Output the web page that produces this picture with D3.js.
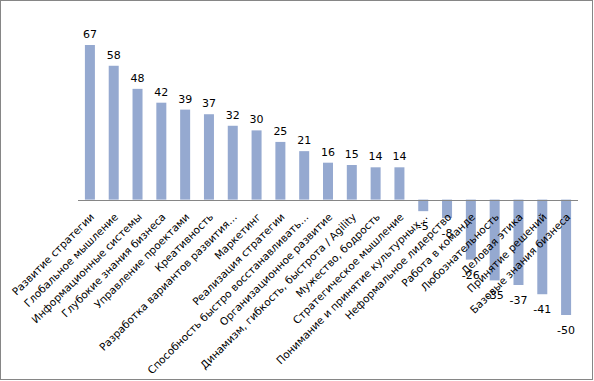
<!DOCTYPE html>
<html>
<head>
<meta charset="utf-8">
<script src="https://cdn.jsdelivr.net/npm/d3@7"></script>
<style>
  body { margin: 0; background: #fff; }
  svg { display: block; }
</style>
</head>
<body>
<div id="chart"></div>
<script>
// competencies and their scores
const categories = [
  'Развитие стратегии',
  'Глобальное мышление',
  'Информационные системы',
  'Глубокие знания бизнеса',
  'Управление проектами',
  'Креативность',
  'Разработка вариантов развития…',
  'Маркетинг',
  'Реализация стратегии',
  'Способность быстро восстанавливать…',
  'Организационное развитие',
  'Динамизм, гибкость, быстрота / Agility',
  'Мужество, бодрость',
  'Стратегическое мышление',
  'Понимание и принятие культурных…',
  'Неформальное лидерство',
  'Работа в команде',
  'Любознательность',
  'Деловая этика',
  'Принятие решений',
  'Базовые знания бизнеса'
];
const values = [67, 58, 48, 42, 39, 37, 32, 30, 25, 21, 16, 15, 14, 14, -5, -8, -26, -35, -37, -41, -50];

const width = 594, height = 381;
const font = 'DejaVu Sans, Verdana, sans-serif';

const svg = d3.select('#chart')
  .append('svg')
  .attr('width', width)
  .attr('height', height);

// outer frame
svg.append('rect')
  .attr('x', 0.5).attr('y', 0.5)
  .attr('width', 592).attr('height', 379)
  .attr('fill', '#fff')
  .attr('stroke', '#868686');

const x = d3.scaleBand()
  .domain(categories)
  .range([78, 578])
  .paddingInner(0.58)
  .paddingOuter(0.29);

const y = d3.scaleLinear()
  .domain([-50, 67])
  .range([315, 45]);

const data = categories.map((c, i) => ({ name: c, value: values[i] }));

svg.selectAll('rect.bar')
  .data(data)
  .join('rect')
  .attr('class', 'bar')
  .attr('x', d => x(d.name))
  .attr('width', x.bandwidth())
  .attr('y', d => y(Math.max(0, d.value)))
  .attr('height', d => Math.abs(y(d.value) - y(0)))
  .attr('fill', '#95a9d0');

// zero line
svg.append('line')
  .attr('x1', 78).attr('x2', 578)
  .attr('y1', Math.round(y(0)) + 0.5).attr('y2', Math.round(y(0)) + 0.5)
  .attr('stroke', '#868686');

// value labels
svg.selectAll('text.val')
  .data(data)
  .join('text')
  .attr('class', 'val')
  .attr('x', d => x(d.name) + x.bandwidth() / 2)
  .attr('y', d => d.value >= 0 ? y(d.value) - 7 : y(d.value) + 19)
  .attr('text-anchor', 'middle')
  .attr('font-family', font)
  .attr('font-size', 11)
  .attr('fill', '#000')
  .text(d => d.value);

// category labels, rotated
svg.selectAll('text.cat')
  .data(data)
  .join('text')
  .attr('class', 'cat')
  .attr('transform', d => `translate(${x(d.name) + x.bandwidth() / 2 + 5},${y(0) + 18}) rotate(-45)`)
  .attr('text-anchor', 'end')
  .attr('font-family', font)
  .attr('font-size', 10.5)
  .attr('fill', '#000')
  .text(d => d.name);
</script>
</body>
</html>
